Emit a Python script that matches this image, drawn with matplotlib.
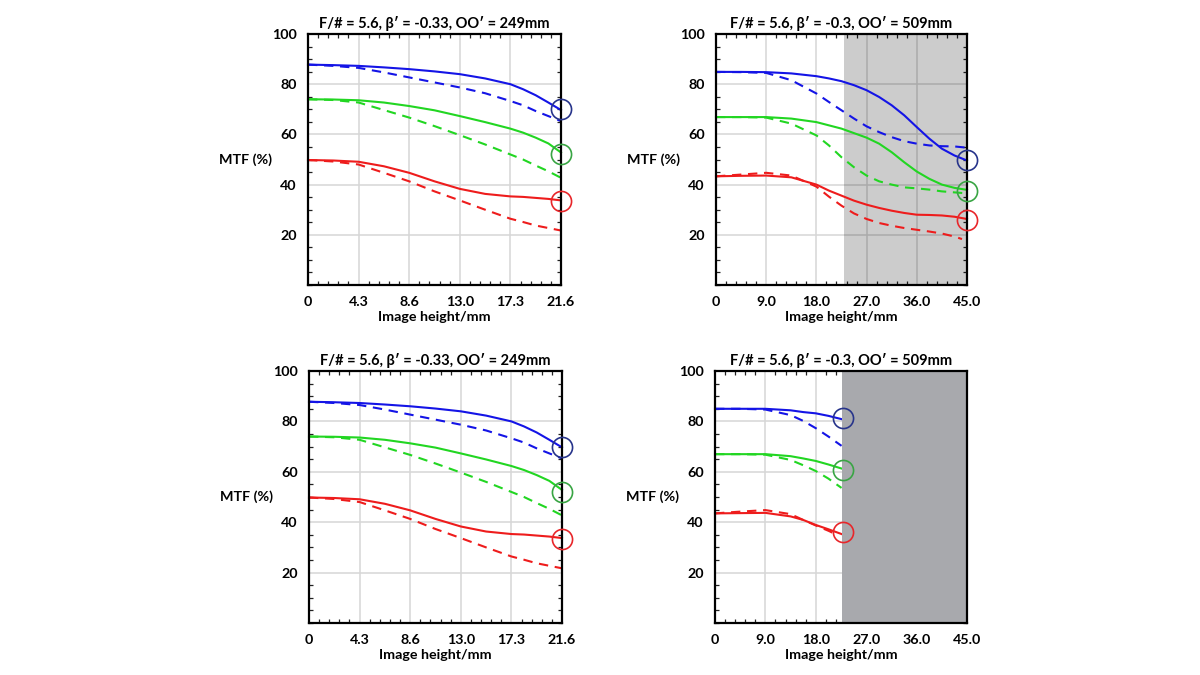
import matplotlib
matplotlib.use("Agg")
import matplotlib.pyplot as plt
from matplotlib.ticker import MultipleLocator, FixedLocator

plt.rcParams['font.family'] = ['Lato', 'DejaVu Sans']
plt.rcParams['font.weight'] = 'bold'

# ---------------- data ----------------
# Left panels (image height 0..21.6 mm)
x_left = [0, 2.16, 4.32, 6.48, 8.64, 10.8, 12.96, 15.12, 17.28, 18.36, 19.44, 20.52, 21.6]
left_blue_solid = [87.8, 87.6, 87.3, 86.7, 86.0, 85.1, 84.0, 82.3, 80.0, 78.0, 75.6, 72.7, 69.7]
left_blue_dash = [87.8, 87.3, 86.5, 84.7, 82.7, 80.7, 78.7, 76.4, 73.3, 71.6, 69.3, 67.3, 65.3]
left_green_solid = [74.0, 73.9, 73.6, 72.7, 71.3, 69.6, 67.3, 64.9, 62.3, 60.7, 58.7, 56.4, 52.8]
left_green_dash = [74.0, 73.7, 72.7, 69.7, 66.7, 63.3, 59.7, 56.0, 52.0, 50.0, 47.6, 45.3, 42.7]
left_red_solid = [49.8, 49.6, 49.1, 47.3, 44.7, 41.3, 38.3, 36.3, 35.3, 35.1, 34.7, 34.3, 33.7]
left_red_dash = [49.8, 49.2, 48.0, 44.7, 41.3, 37.3, 33.7, 30.0, 26.4, 25.1, 23.7, 22.7, 21.7]
left_marker_x = 21.6
left_markers = [70, 52, 33.5]  # blue, green, red
left_xticks = [0, 4.32, 8.64, 12.96, 17.28, 21.6]
left_xticklabels = ["0", "4.3", "8.6", "13.0", "17.3", "21.6"]
left_title = "F/# = 5.6, β′ = -0.33, OO′ = 249mm"

# Top-right panel (image height 0..45 mm)
x_right = [0, 4.5, 9, 13.5, 18, 20.25, 22.5, 24.75, 27, 29.25, 31.5, 33.75, 36, 38.25, 40.5, 42.75, 45]
tr_blue_solid = [84.9, 84.9, 84.8, 84.3, 83.2, 82.3, 81.2, 79.6, 77.6, 74.9, 71.6, 67.6, 62.9, 58.3, 54.3, 51.6, 49.6]
tr_blue_dash = [84.9, 84.8, 84.5, 81.6, 76.3, 72.9, 69.6, 66.3, 63.2, 60.9, 58.9, 57.3, 56.3, 55.6, 55.3, 55.2, 54.7]
tr_green_solid = [66.9, 66.9, 66.9, 66.3, 64.9, 63.6, 62.3, 60.5, 58.7, 56.3, 52.9, 48.9, 45.2, 42.3, 40.0, 38.7, 37.9]
tr_green_dash = [66.9, 66.9, 66.7, 64.3, 59.6, 55.6, 50.9, 46.9, 43.6, 41.3, 40.0, 38.9, 38.5, 38.0, 37.3, 36.9, 36.5]
tr_red_solid = [43.3, 43.5, 43.6, 42.9, 40.0, 37.6, 35.6, 33.6, 32.0, 30.7, 29.6, 28.7, 28.0, 27.9, 27.7, 27.2, 26.3]
x_tr_red_dash = [0, 4.5, 9, 13.5, 18, 20.25, 22.5, 24.75, 27, 29.25, 31.5, 33.75, 36, 38.25, 40.5, 42.75, 44.1]
tr_red_dash = [43.3, 44.0, 44.7, 43.6, 39.2, 35.2, 31.6, 28.5, 26.3, 24.7, 23.6, 22.7, 22.0, 21.3, 20.5, 19.3, 18.3]
tr_marker_x = 45
tr_markers = [50, 37.5, 26]
tr_shade_start = 22.9

# Bottom-right panel (curves stop at ~22.6 mm)
x_br = [0, 4.5, 9, 13.5, 15.75, 18, 20.25, 22.6]
br_blue_solid = [85.0, 85.0, 85.0, 84.4, 83.7, 83.2, 82.2, 80.9]
br_blue_dash = [85.0, 85.0, 84.7, 82.5, 80.2, 77.3, 74.0, 70.3]
br_green_solid = [67.0, 67.0, 67.0, 66.2, 65.3, 64.3, 62.9, 61.3]
br_green_dash = [67.0, 67.0, 66.8, 64.7, 62.6, 60.3, 57.3, 53.6]
br_red_solid = [43.5, 43.6, 43.7, 42.3, 40.9, 38.9, 37.2, 35.3]
x_br_red_dash = [0, 4.5, 9, 13.5, 15.75, 18, 20.25, 21.5]
br_red_dash = [43.5, 44.2, 44.8, 43.2, 40.9, 38.7, 36.6, 35.3]
br_marker_x = 22.9
br_markers = [81.3, 60.6, 36]
br_shade_start = 22.6

right_xticks = [0, 9, 18, 27, 36, 45]
right_xticklabels = ["0", "9.0", "18.0", "27.0", "36.0", "45.0"]
right_title = "F/# = 5.6, β′ = -0.3, OO′ = 509mm"

y_ticks = [20, 40, 60, 80, 100]

# ---------------- styles ----------------
C_LINE = ["#1414e6", "#22d622", "#ee1c1c"]
C_MARK = ["#27348b", "#39a544", "#e8262a"]
LW = 1.5
DASH = (0, (4.5, 3.2))

fig = plt.figure(figsize=(12, 6.75), dpi=100)

positions = {
    'tl': [308 / 1200, 1 - 285 / 675, 253 / 1200, 251 / 675],
    'tr': [716 / 1200, 1 - 285 / 675, 251 / 1200, 251 / 675],
    'bl': [309 / 1200, 1 - 623 / 675, 253 / 1200, 252 / 675],
    'br': [715 / 1200, 1 - 623 / 675, 252 / 1200, 252 / 675],
}


def style_axes(ax, xmax, xticks, xlabels, title, minor_x):
    ax.set_xlim(0, xmax)
    ax.set_ylim(0, 100)
    ax.xaxis.set_major_locator(FixedLocator(xticks))
    ax.set_xticklabels(xlabels)
    ax.yaxis.set_major_locator(FixedLocator(y_ticks))
    ax.set_yticklabels([str(v) for v in y_ticks])
    ax.xaxis.set_minor_locator(MultipleLocator(minor_x))
    ax.yaxis.set_minor_locator(MultipleLocator(5))
    ax.grid(True, which='major', color='#d6d6d6', lw=1.1, zorder=0)
    ax.set_axisbelow(True)
    ax.tick_params(which='major', length=0, pad=8, labelsize=10.3)
    ax.tick_params(which='minor', direction='in', length=3, width=0.9,
                   top=True, right=True, bottom=True, left=True, color='#222222')
    for lab in ax.get_xticklabels() + ax.get_yticklabels():
        lab.set_fontweight('bold')
    for sp in ax.spines.values():
        sp.set_linewidth(1.6)
        sp.set_color('black')
        sp.set_zorder(10)
    ax.set_title(title, fontsize=10.5, fontweight='bold', pad=4)
    ax.set_xlabel("Image height/mm", fontsize=10.3, fontweight='bold', labelpad=2)
    ax.text(-0.142, 0.5, "MTF (%)", transform=ax.transAxes, ha='right', va='center',
            fontsize=10.3, fontweight='bold')


def draw_curves(ax, xs, solids, dashes, xs_dash=None):
    for i in range(3):
        ax.plot(xs, solids[i], color=C_LINE[i], lw=LW, zorder=4, clip_on=False,
                solid_joinstyle='round')
        xd = xs if xs_dash is None or xs_dash[i] is None else xs_dash[i]
        ax.plot(xd, dashes[i], color=C_LINE[i], lw=LW, ls=DASH, zorder=4, clip_on=False)


def draw_markers(ax, mx, vals):
    for i in range(3):
        ax.plot([mx], [vals[i]], marker='o', ms=14.5, mfc='none', mec=C_MARK[i],
                mew=1.2, ls='none', zorder=12, clip_on=False)


# Left panels
for key in ['tl', 'bl']:
    ax = fig.add_axes(positions[key])
    style_axes(ax, 21.6, left_xticks, left_xticklabels, left_title, 21.6 / 25)
    draw_curves(ax, x_left,
                [left_blue_solid, left_green_solid, left_red_solid],
                [left_blue_dash, left_green_dash, left_red_dash])
    draw_markers(ax, left_marker_x, left_markers)

# Top-right panel
ax = fig.add_axes(positions['tr'])
style_axes(ax, 45, right_xticks, right_xticklabels, right_title, 45 / 25)
draw_curves(ax, x_right,
            [tr_blue_solid, tr_green_solid, tr_red_solid],
            [tr_blue_dash, tr_green_dash, tr_red_dash],
            xs_dash=[None, None, x_tr_red_dash])
ax.axvspan(tr_shade_start, 45, color='black', alpha=0.2, lw=0, zorder=2)
draw_markers(ax, tr_marker_x, tr_markers)

# Bottom-right panel
ax = fig.add_axes(positions['br'])
style_axes(ax, 45, right_xticks, right_xticklabels, right_title, 45 / 25)
draw_curves(ax, x_br,
            [br_blue_solid, br_green_solid, br_red_solid],
            [br_blue_dash, br_green_dash, br_red_dash],
            xs_dash=[None, None, x_br_red_dash])
ax.axvspan(br_shade_start, 45, color='#a8a9ad', lw=0, zorder=5)
draw_markers(ax, br_marker_x, br_markers)

fig.savefig("out.png", dpi=100)
